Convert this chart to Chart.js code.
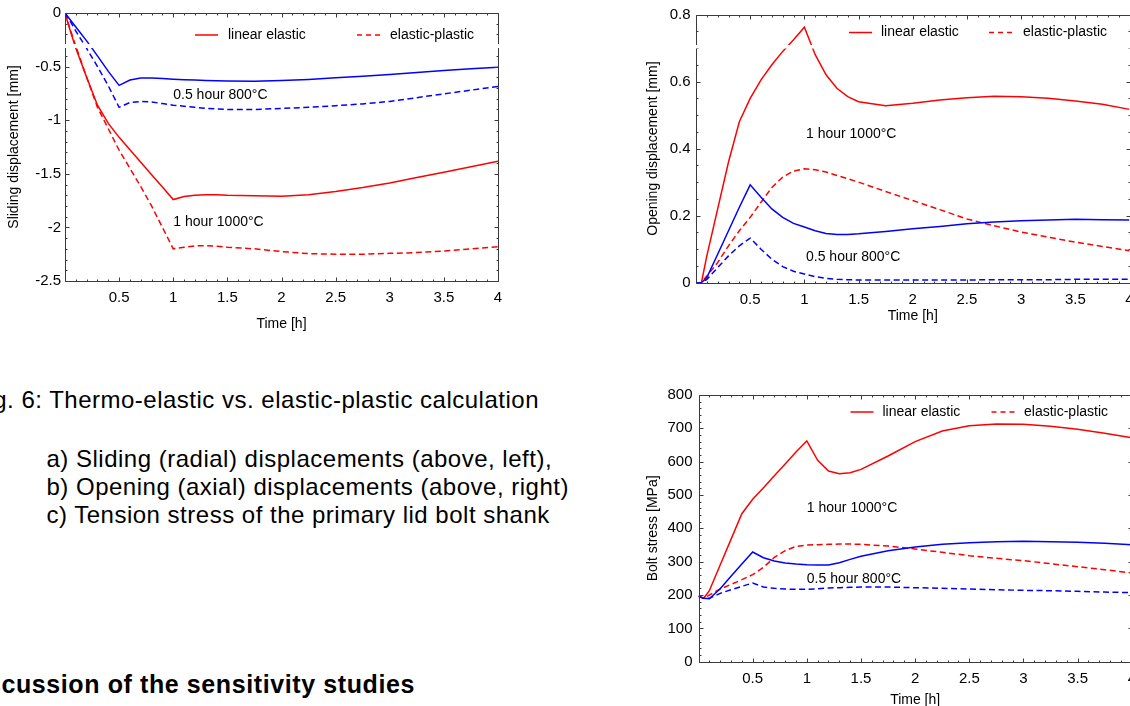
<!DOCTYPE html>
<html>
<head>
<meta charset="utf-8">
<script src="https://cdn.jsdelivr.net/npm/chart.js@4/dist/chart.umd.min.js"></script>
<style>
html,body{margin:0;padding:0;background:#fff;}
body{position:relative;width:1130px;height:706px;overflow:hidden;font-family:"Liberation Sans",Arial,Helvetica,sans-serif;color:#000;}
.cv{position:absolute;}
.txt{position:absolute;white-space:nowrap;line-height:1;font-size:24px;letter-spacing:0.5px;}
.bold{font-weight:bold;font-size:25px;letter-spacing:0.6px;}
</style>
</head>
<body>
<canvas id="c1" class="cv" style="left:0;top:0" width="520" height="340"></canvas>
<canvas id="c2" class="cv" style="left:640px;top:0" width="520" height="330"></canvas>
<canvas id="c3" class="cv" style="left:640px;top:380px" width="520" height="340"></canvas>

<div class="txt" style="right:591px;top:388px">Fig. 6: Thermo-elastic vs. elastic-plastic calculation</div>
<div class="txt" style="left:46.5px;top:447px">a) Sliding (radial) displacements (above, left),</div>
<div class="txt" style="left:46.5px;top:474.7px">b) Opening (axial) displacements (above, right)</div>
<div class="txt" style="left:46.5px;top:503px">c) Tension stress of the primary lid bolt shank</div>
<div class="txt bold" style="right:715px;top:672px">5 Discussion of the sensitivity studies</div>

<script>
// ---- data ----
const timeH = [0,0.05,0.1,0.2,0.3,0.4,0.5,0.6,0.7,0.8,0.9,1,1.1,1.2,1.3,1.4,1.5,1.75,2,2.25,2.5,2.75,3,3.25,3.5,3.75,4];
const xTickLabels = [0.5,1,1.5,2,2.5,3,3.5,4];

// a) sliding displacement [mm]
const slideLinear800  = [0,-0.065,-0.13,-0.26,-0.40,-0.545,-0.675,-0.625,-0.607,-0.607,-0.612,-0.617,-0.622,-0.626,-0.63,-0.633,-0.635,-0.636,-0.63,-0.62,-0.605,-0.59,-0.574,-0.556,-0.537,-0.521,-0.505];
const slidePlastic800 = [0,-0.08,-0.17,-0.33,-0.50,-0.68,-0.88,-0.835,-0.825,-0.83,-0.845,-0.86,-0.87,-0.88,-0.89,-0.895,-0.9,-0.9,-0.89,-0.88,-0.865,-0.848,-0.825,-0.79,-0.754,-0.72,-0.686];
const slideLinear1000 = [0,-0.17,-0.33,-0.6,-0.86,-1.03,-1.16,-1.276,-1.392,-1.508,-1.624,-1.74,-1.712,-1.70,-1.695,-1.695,-1.70,-1.705,-1.71,-1.695,-1.665,-1.628,-1.585,-1.535,-1.485,-1.435,-1.383];
const slidePlastic1000= [0,-0.16,-0.31,-0.6,-0.88,-1.08,-1.28,-1.45,-1.62,-1.8,-2.0,-2.2,-2.185,-2.172,-2.17,-2.175,-2.185,-2.2,-2.225,-2.245,-2.25,-2.25,-2.242,-2.235,-2.22,-2.2,-2.18];

// b) opening displacement [mm]
const openLinear1000  = [0,0,0.08,0.22,0.36,0.48,0.55,0.605,0.65,0.69,0.725,0.762,0.68,0.62,0.58,0.555,0.54,0.528,0.535,0.545,0.552,0.556,0.555,0.55,0.542,0.532,0.517];
const openPlastic1000 = [0,0,0.02,0.06,0.11,0.155,0.195,0.24,0.284,0.315,0.333,0.34,0.337,0.33,0.32,0.31,0.3,0.272,0.245,0.218,0.19,0.17,0.151,0.136,0.121,0.108,0.095];
const openLinear800   = [0,0,0.015,0.085,0.155,0.225,0.292,0.255,0.22,0.195,0.177,0.166,0.155,0.147,0.144,0.144,0.146,0.153,0.161,0.168,0.176,0.181,0.185,0.187,0.189,0.188,0.187];
const openPlastic800  = [0,0,0.01,0.045,0.08,0.11,0.133,0.1,0.07,0.048,0.034,0.026,0.018,0.013,0.01,0.009,0.008,0.008,0.008,0.008,0.008,0.009,0.009,0.009,0.01,0.01,0.01];

// c) bolt stress [MPa]
const boltLinear1000  = [196,191,213,290,367,444,487,522,558,593,629,662,604,572,564,567,577,617,660,692,708,713,712,706,697,685,672];
const boltPlastic1000 = [196,190,200,218,232,246,261,283,313,333,346,350,351,352,353,353,352,347,338,328,318,310,303,294,285,276,266];
const boltLinear800   = [196,190,189,219,256,293,329,312,302,296,293,291,290,290,297,307,316,333,344,352,357,360,361,360,358,355,351];
const boltPlastic800  = [196,190,190,205,216,226,236,224,220,218,217,217,219,221,222,223,224,224,222,220,218,216,214,213,211,209,207];

const legendLabels = ['linear elastic','elastic-plastic'];
const noteLabels = ['0.5 hour 800°C','1 hour 1000°C'];

// ---- styling ----
const RED = '#ff0000', BLUE = '#0000ff';
const DASH = [6,3.5];
const FONT = '"Liberation Sans", Arial, Helvetica, sans-serif';
Chart.defaults.font.family = FONT;
Chart.defaults.color = '#000';

const fmt = v => String(Number(Number(v).toFixed(4)));

const decor = {
  id: 'decor',
  afterDatasetsDraw(chart, args, o) {
    const {ctx, chartArea: a} = chart;
    const xs = chart.scales.x, ys = chart.scales.y;
    ctx.save();
    ctx.setLineDash([]);
    ctx.strokeStyle = '#3a3a3a';
    ctx.lineWidth = 1;
    const L = Math.round(a.left) + 0.5, R = Math.round(a.right) + 0.5;
    const Tp = Math.round(a.top) + 0.5, B = Math.round(a.bottom) + 0.5;
    ctx.beginPath();
    ctx.moveTo(L, Tp); ctx.lineTo(R, Tp); ctx.lineTo(R, B); ctx.lineTo(L, B); ctx.closePath();
    const nx = Math.round((xs.max - xs.min) / o.xMinor);
    for (let i = 0; i <= nx; i++) {
      const p = Math.round(xs.getPixelForValue(xs.min + i * o.xMinor)) + 0.5;
      const len = (i % o.xEvery === 0) ? 4 : 2;
      ctx.moveTo(p, B); ctx.lineTo(p, B - len);
      ctx.moveTo(p, Tp); ctx.lineTo(p, Tp + len);
    }
    const ny = Math.round((ys.max - ys.min) / o.yMinor);
    for (let i = 0; i <= ny; i++) {
      const p = Math.round(ys.getPixelForValue(ys.min + i * o.yMinor)) + 0.5;
      const len = (i % o.yEvery === 0) ? 4 : 2;
      ctx.moveTo(L, p); ctx.lineTo(L + len, p);
      ctx.moveTo(R, p); ctx.lineTo(R - len, p);
    }
    ctx.stroke();
    if (o.band) {
      ctx.fillStyle = '#fff';
      ctx.fillRect(a.left - 3, a.top + o.band[0], a.width + 6, o.band[1]);
    }
    // legend (red solid / red dashed datasets)
    ctx.font = '14px ' + FONT;
    ctx.textBaseline = 'middle';
    ctx.textAlign = 'left';
    const ly = a.top + o.legend.y;
    o.legend.items.forEach((it, k) => {
      const ds = chart.data.datasets[it.ds];
      ctx.strokeStyle = ds.borderColor;
      ctx.lineWidth = 1.5;
      ctx.setLineDash(ds.borderDash && ds.borderDash.length ? [5,4] : []);
      ctx.beginPath();
      ctx.moveTo(a.left + it.line, ly); ctx.lineTo(a.left + it.line + 23, ly);
      ctx.stroke();
      ctx.fillStyle = '#000';
      ctx.fillText(legendLabels[k], a.left + it.text, ly);
    });
    ctx.setLineDash([]);
    // notes at data coordinates
    o.notes.forEach((n, k) => {
      ctx.fillText(noteLabels[k], xs.getPixelForValue(n[0]), ys.getPixelForValue(n[1]));
    });
    ctx.restore();
  }
};

function build(id, cfg) {
  const series = [
    {data: cfg.lin800, color: BLUE, dash: []},
    {data: cfg.pl800, color: BLUE, dash: DASH},
    {data: cfg.lin1000, color: RED, dash: []},
    {data: cfg.pl1000, color: RED, dash: DASH}
  ];
  return new Chart(document.getElementById(id), {
    type: 'line',
    data: {
      datasets: series.map(s => ({
        data: timeH.map((t, i) => ({x: t, y: s.data[i]})),
        borderColor: s.color,
        borderDash: s.dash,
        borderWidth: 1.5,
        pointRadius: 0,
        tension: 0,
        fill: false
      }))
    },
    options: {
      responsive: false,
      animation: false,
      events: [],
      layout: {padding: {left: 0, top: cfg.padTop, right: cfg.padRight, bottom: 0}},
      plugins: {
        legend: {display: false},
        tooltip: {enabled: false},
        decor: {
          xMinor: 0.1, xEvery: 5, yMinor: cfg.yMinor, yEvery: cfg.yEvery,
          band: cfg.band,
          legend: {y: cfg.legendY, items: [{ds: 2, line: cfg.lg[0], text: cfg.lg[1]}, {ds: 3, line: cfg.lg[2], text: cfg.lg[3]}]},
          notes: cfg.notes
        }
      },
      scales: {
        x: {
          type: 'linear', min: 0, max: 4,
          afterFit: s => { s.height = cfg.xh; },
          afterBuildTicks: s => { s.ticks = xTickLabels.map(v => ({value: v})); },
          ticks: {autoSkip: false, maxRotation: 0, padding: 8, font: {size: 15}, callback: fmt},
          grid: {display: false, drawTicks: false},
          border: {display: false},
          title: {display: true, text: 'Time [h]', font: {size: 14}, padding: {top: 0, bottom: cfg.xTitlePad}}
        },
        y: {
          type: 'linear', min: cfg.yMin, max: cfg.yMax,
          afterFit: s => { s.width = cfg.yw; },
          ticks: {stepSize: cfg.yStep, autoSkip: false, padding: cfg.yTickPad, font: {size: 15}, callback: fmt},
          grid: {display: false, drawTicks: false},
          border: {display: false},
          title: {display: true, text: cfg.yTitle, font: {size: 14}, padding: {top: cfg.yTitlePad, bottom: 0}}
        }
      }
    },
    plugins: [decor]
  });
}

build('c1', {
  lin800: slideLinear800, pl800: slidePlastic800, lin1000: slideLinear1000, pl1000: slidePlastic1000,
  yMin: -2.5, yMax: 0, yStep: 0.5, yMinor: 0.1, yEvery: 5,
  yTitle: 'Sliding displacement [mm]',
  padTop: 12.3, padRight: 22, yw: 65, xh: 59, xTitlePad: 7, yTitlePad: 6, yTickPad: 4,
  band: [31, 4], legendY: 22, lg: [130, 163, 292, 325],
  notes: [[1.0, -0.77], [1.0, -1.95]]
});

build('c2', {
  lin800: openLinear800, pl800: openPlastic800, lin1000: openLinear1000, pl1000: openPlastic1000,
  yMin: 0, yMax: 0.8, yStep: 0.2, yMinor: 0.05, yEvery: 4,
  yTitle: 'Opening displacement [mm]',
  padTop: 12.3, padRight: 30.5, yw: 56, xh: 47.3, xTitlePad: 5, yTitlePad: 5, yTickPad: 5.5,
  band: [30.5, 3.5], legendY: 18, lg: [153, 185, 293, 327],
  notes: [[1.015, 0.076], [1.015, 0.443]]
});

build('c3', {
  lin800: boltLinear800, pl800: boltPlastic800, lin1000: boltLinear1000, pl1000: boltPlastic1000,
  yMin: 0, yMax: 800, yStep: 100, yMinor: 20, yEvery: 5,
  yTitle: 'Bolt stress [MPa]',
  padTop: 13.3, padRight: 28.2, yw: 58.5, xh: 58.3, xTitlePad: 11.6, yTitlePad: 4.3, yTickPad: 6,
  band: null, legendY: 17, lg: [152, 184, 293, 325.5],
  notes: [[1.0, 247], [1.0, 462]]
});
</script>
</body>
</html>
